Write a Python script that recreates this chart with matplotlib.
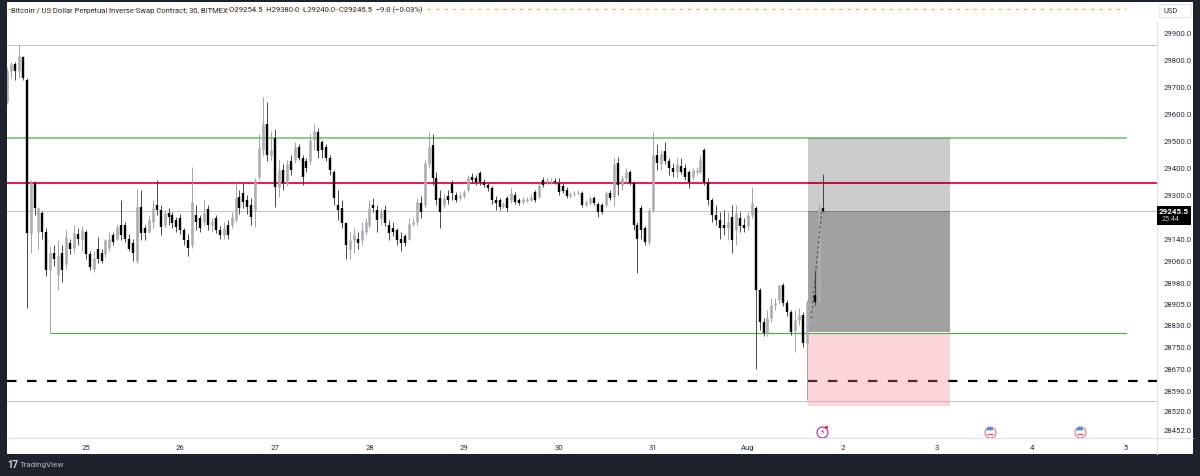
"""BTC perpetual 30m chart with long position box, TradingView look."""

import matplotlib

matplotlib.use("Agg")

import matplotlib.pyplot as plt
import numpy as np
from matplotlib.patches import FancyBboxPatch, Rectangle
from matplotlib.ticker import NullFormatter

plt.rcParams["font.family"] = ["Roboto", "DejaVu Sans"]

opens = [29644, 29759, 29788, 29759, 29814, 29729, 29163, 29348, 29167, 29237, 29167, 29030, 29093, 29011, 29093, 29052,
         29126, 29111, 29159, 29144, 29167, 29089, 29033, 29107, 29093, 29089, 29111, 29156, 29144, 29193, 29193, 29144,
         29126, 29063, 29259, 29181, 29167, 29204, 29267, 29248, 29193, 29237, 29230, 29211, 29218, 29174, 29137, 29119,
         29230, 29218, 29204, 29252, 29193, 29218, 29174, 29156, 29193, 29193, 29211, 29296, 29311, 29285, 29267, 29248,
         29370, 29470, 29563, 29451, 29514, 29333, 29396, 29348, 29426, 29433, 29481, 29440, 29426, 29426, 29507, 29533,
         29496, 29481, 29440, 29389, 29267, 29255, 29200, 29107, 29137, 29144, 29137, 29167, 29193, 29267, 29248, 29218,
         29248, 29193, 29181, 29174, 29144, 29152, 29144, 29196, 29204, 29274, 29267, 29415, 29485, 29366, 29292, 29267,
         29300, 29348, 29304, 29292, 29300, 29322, 29370, 29366, 29385, 29352, 29341, 29329, 29285, 29285, 29263, 29292,
         29285, 29304, 29285, 29278, 29281, 29285, 29315, 29296, 29359, 29352, 29352, 29355, 29348, 29337, 29322, 29300,
         29307, 29311, 29311, 29267, 29274, 29292, 29270, 29267, 29267, 29311, 29296, 29422, 29341, 29366, 29389, 29348,
         29193, 29255, 29181, 29130, 29248, 29451, 29415, 29463, 29426, 29403, 29389, 29411, 29403, 29389, 29370, 29389,
         29389, 29470, 29352, 29285, 29230, 29211, 29193, 29181, 29222, 29174, 29218, 29193, 29189, 29230, 29255, 28958,
         28842, 28803, 28856, 28903, 28921, 28976, 28910, 28878, 28814, 28849, 28867, 28767, 28842, 28939, 28914, 29254.5]
highs = [29773, 29796, 29796, 29859, 29818, 29736, 29359, 29355, 29259, 29244, 29181, 29115, 29119, 29137, 29119, 29174,
         29144, 29193, 29181, 29189, 29174, 29100, 29100, 29148, 29107, 29144, 29167, 29167, 29196, 29285, 29204, 29159,
         29144, 29326, 29322, 29193, 29230, 29285, 29359, 29267, 29248, 29255, 29241, 29222, 29233, 29181, 29159, 29407,
         29267, 29230, 29285, 29267, 29218, 29230, 29189, 29204, 29211, 29241, 29348, 29322, 29348, 29304, 29292, 29366,
         29526, 29666, 29644, 29537, 29544, 29433, 29415, 29433, 29451, 29496, 29492, 29451, 29440, 29526, 29563, 29551,
         29507, 29489, 29451, 29396, 29322, 29285, 29204, 29167, 29181, 29167, 29204, 29218, 29285, 29292, 29267, 29255,
         29267, 29211, 29204, 29181, 29167, 29159, 29218, 29218, 29292, 29300, 29433, 29533, 29526, 29389, 29322, 29307,
         29322, 29359, 29315, 29315, 29322, 29377, 29385, 29377, 29392, 29363, 29348, 29337, 29300, 29292, 29278, 29300,
         29329, 29315, 29292, 29296, 29296, 29307, 29322, 29348, 29370, 29370, 29366, 29366, 29366, 29348, 29333, 29315,
         29318, 29322, 29318, 29285, 29300, 29300, 29278, 29274, 29318, 29322, 29440, 29444, 29377, 29403, 29396, 29355,
         29204, 29267, 29189, 29255, 29533, 29489, 29470, 29496, 29440, 29422, 29440, 29440, 29415, 29396, 29403, 29407,
         29451, 29477, 29366, 29292, 29267, 29241, 29248, 29241, 29267, 29267, 29241, 29218, 29241, 29333, 29263, 28965,
         28856, 28885, 28929, 28929, 28976, 28983, 28921, 28885, 28885, 28892, 28878, 28921, 29030, 29030, 29267, 29380]
lows = [29640, 29733, 29729, 29736, 29729, 28892, 29093, 29230, 29107, 29144, 29007, 28800, 29044, 28958, 28986, 29033,
        29089, 29093, 29119, 29100, 29070, 29030, 29022, 29056, 29056, 29078, 29100, 29119, 29137, 29137, 29130, 29100,
        29063, 29056, 29137, 29137, 29163, 29181, 29230, 29156, 29181, 29193, 29181, 29167, 29159, 29119, 29082, 29111,
        29174, 29167, 29193, 29174, 29167, 29163, 29144, 29144, 29144, 29181, 29204, 29233, 29255, 29233, 29193, 29185,
        29359, 29448, 29426, 29433, 29259, 29296, 29322, 29337, 29377, 29422, 29433, 29341, 29389, 29415, 29470, 29440,
        29440, 29426, 29377, 29267, 29211, 29181, 29070, 29070, 29093, 29107, 29119, 29156, 29181, 29241, 29167, 29193,
        29189, 29137, 29152, 29119, 29100, 29115, 29137, 29189, 29193, 29218, 29255, 29403, 29341, 29267, 29181, 29255,
        29270, 29285, 29278, 29285, 29292, 29315, 29348, 29341, 29341, 29333, 29318, 29270, 29248, 29248, 29255, 29244,
        29274, 29270, 29267, 29270, 29278, 29281, 29278, 29292, 29333, 29344, 29344, 29344, 29304, 29311, 29292, 29292,
        29300, 29304, 29259, 29263, 29267, 29267, 29222, 29233, 29259, 29285, 29263, 29304, 29322, 29348, 29341, 29174,
        29018, 29144, 29119, 29122, 29241, 29396, 29396, 29415, 29377, 29370, 29366, 29381, 29359, 29329, 29359, 29377,
        29381, 29341, 29267, 29204, 29193, 29144, 29156, 29137, 29093, 29119, 29167, 29167, 29174, 29218, 28673, 28814,
        28792, 28792, 28842, 28885, 28910, 28899, 28864, 28796, 28732, 28831, 28750, 28560, 28831, 28903, 28903, 29240]
closes = [29759, 29788, 29759, 29818, 29736, 29163, 29348, 29255, 29255, 29167, 29030, 29093, 29070, 29082, 29030, 29148,
          29107, 29163, 29144, 29174, 29089, 29041, 29074, 29070, 29063, 29137, 29144, 29130, 29185, 29156, 29144, 29107,
          29093, 29259, 29163, 29163, 29211, 29255, 29248, 29185, 29237, 29222, 29200, 29185, 29174, 29137, 29111, 29278,
          29204, 29181, 29237, 29193, 29204, 29174, 29156, 29181, 29156, 29222, 29292, 29255, 29278, 29259, 29222, 29359,
          29477, 29563, 29451, 29470, 29333, 29396, 29348, 29415, 29396, 29481, 29440, 29370, 29403, 29507, 29537, 29463,
          29470, 29440, 29396, 29292, 29248, 29200, 29119, 29137, 29156, 29126, 29174, 29204, 29255, 29255, 29211, 29241,
          29200, 29163, 29167, 29137, 29126, 29126, 29196, 29204, 29278, 29241, 29422, 29481, 29366, 29285, 29241, 29292,
          29285, 29311, 29285, 29304, 29315, 29366, 29359, 29352, 29352, 29341, 29329, 29285, 29274, 29259, 29270, 29255,
          29311, 29278, 29274, 29289, 29289, 29296, 29285, 29341, 29341, 29359, 29355, 29352, 29315, 29318, 29300, 29307,
          29311, 29315, 29267, 29278, 29292, 29274, 29241, 29241, 29311, 29292, 29415, 29341, 29366, 29389, 29348, 29193,
          29144, 29174, 29130, 29248, 29451, 29422, 29455, 29426, 29403, 29389, 29415, 29389, 29370, 29352, 29396, 29396,
          29433, 29352, 29285, 29230, 29211, 29181, 29181, 29204, 29137, 29237, 29189, 29181, 29230, 29274, 28958, 28842,
          28803, 28856, 28903, 28910, 28976, 28910, 28878, 28807, 28849, 28867, 28767, 28914, 28914, 28914, 29252, 29245.5]

first_hour = -20  # first candle, in hours from 25 Jul 00:00

date_ticks = list(range(12))
date_labels = ["25", "26", "27", "28", "29", "30", "31", "Aug", "2", "3", "4", "5"]
price_ticks = [29900, 29800, 29700, 29600, 29500, 29400, 29300, 29140, 29060, 28980,
               28905, 28830, 28750, 28670, 28590, 28520, 28452]

top_green = 29512
low_green = 28800
red_level = 29348
dash_level = 28630
orange_level = 29992
dotted_levels = [29858, 29245.5, 28557]
entry_price = 29245.5
box_top = 29512
box_mid = 28806
box_bottom = 28540
box_days = [7.635, 9.135]
path_days = [7.67, 7.78]
path_prices = [28855, 29240]
low_green_start = -0.365
line_end = 11.0
flag_days = [9.56, 10.51]
bolt_day = 7.78
event_price = 28448

W, H = 1200, 476
fig = plt.figure(figsize=(W / 100, H / 100), dpi=100, facecolor="#1e222d")


def fx(px):
    return px / W


def fy(px):
    return 1 - px / H


fig.add_artist(Rectangle((fx(7), fy(454)), fx(1186), 452 / H, transform=fig.transFigure,
                         facecolor="white", edgecolor="none", zorder=-5))

ax = fig.add_axes([fx(7), fy(438), fx(1150), 436 / H], facecolor="none")
ax.set_yscale("log")
ax.set_xlim(-0.833, 11.327)
ax.set_ylim(28426, 30018.7)
for s in ax.spines.values():
    s.set_visible(False)

days = (np.arange(len(opens)) + first_hour) / 24
o, h, l, c = map(np.array, (opens, highs, lows, closes))
up = c >= o
px_lw = 72 / 100

# candles, grey ones first so the black ones stay on top
ax.vlines(days[up], l[up], h[up], color="#9b9ba1", lw=0.9 * px_lw, zorder=5)
ax.vlines(days[up], o[up], c[up], color="#acacb2", lw=2.6 * px_lw, zorder=5)
ax.vlines(days[~up], l[~up], h[~up], color="#3a3a3a", lw=0.9 * px_lw, zorder=6)
ax.vlines(days[~up], o[~up], c[~up], color="black", lw=2.4 * px_lw, zorder=6)

# levels
ax.plot([days[0] - 0.03, line_end], [top_green] * 2, color="#7cc47f", lw=1.7 * px_lw, zorder=2)
ax.plot([low_green_start, line_end], [low_green] * 2, color="#4caf50", lw=1.2 * px_lw, zorder=2)
ax.axhline(red_level, color="#ec1c5b", lw=2.0 * px_lw, zorder=2)
ax.axhline(dash_level, color="black", lw=2.2 * px_lw, dashes=(4.3, 4.8), zorder=2)
ax.plot([-0.833, line_end], [orange_level] * 2, color="#ffb74d", lw=1.2 * px_lw, dashes=(3, 4), zorder=1)
for lv in dotted_levels:
    ax.axhline(lv, color="#8a8d96", lw=1.0 * px_lw, dashes=(1, 1), zorder=1)

# long position box
ax.fill_between(box_days, entry_price, box_top, color="black", alpha=0.2, lw=0, zorder=3)
ax.fill_between(box_days, box_mid, entry_price, color="black", alpha=0.37, lw=0, zorder=3)
ax.fill_between(box_days, box_bottom, box_mid - 8, color="#f4808c", alpha=0.33, lw=0, zorder=3)
ax.plot(path_days, path_prices, color="#444444", lw=1.0 * px_lw, dashes=(2.5, 2.5), zorder=7)

# event markers
ax.scatter(flag_days, [event_price] * 2, s=62, facecolor="white", edgecolor="#f0737f", lw=0.8, zorder=8)
ax.scatter(flag_days, [event_price + 5] * 2, s=26, color="#4a90e2", marker=matplotlib.markers.MarkerStyle("o", fillstyle="top"),
           edgecolor="none", zorder=9)
ax.scatter(flag_days, [event_price - 8] * 2, s=16, color="#ef5350", marker="_", lw=1.0, zorder=9)
ax.scatter([bolt_day], [event_price], s=62, facecolor="white", edgecolor="#9c27b0", lw=0.8, zorder=8)
ax.text(bolt_day, event_price, "\u26a1", color="#9c27b0", fontsize=5.5, ha="center", va="center",
        family=["DejaVu Sans"], zorder=9)
ax.scatter([bolt_day + 0.05], [event_price + 18], s=6, color="#f23645", lw=0, zorder=10)

# axes
ax.set_xticks(date_ticks, date_labels)
ax.yaxis.tick_right()
ax.set_yticks(price_ticks, [f"{p:.1f}" for p in price_ticks])
ax.yaxis.set_minor_formatter(NullFormatter())
ax.tick_params(axis="y", which="both", length=0, pad=5, labelsize=5.6, labelcolor="#2a2e39")
ax.tick_params(axis="y", which="minor", right=False)
ax.tick_params(axis="x", length=0, pad=5, labelsize=5.6, labelcolor="#2a2e39")

# panel separators
fig.add_artist(plt.Line2D([fx(7), fx(1193)], [fy(438)] * 2, color="#e0e3eb", lw=0.8))
fig.add_artist(plt.Line2D([fx(1157)] * 2, [fy(22), fy(454)], color="#e0e3eb", lw=0.8))

# header
fig.text(fx(11), fy(10.5), "Bitcoin / US Dollar Perpetual Inverse Swap Contract, 30, BITMEX", fontsize=5.5,
         color="#2a2e39", va="center", zorder=10)
fig.text(fx(229), fy(10.5), "O29254.5  H29380.0  L29240.0  C29245.5  \u22129.0 (\u22120.03%)", fontsize=5.5,
         color="#2a2e39", va="center", zorder=10)

# USD box and last price tag
fig.add_artist(FancyBboxPatch((fx(1161), fy(17)), fx(29), 12 / H, transform=fig.transFigure,
                              boxstyle="round,pad=0.001", facecolor="white", edgecolor="#e0e3eb", lw=0.7))
fig.text(fx(1171), fy(11.5), "USD", fontsize=5.4, color="#2a2e39", ha="center", va="center")
fig.add_artist(Rectangle((fx(1157), fy(224.5)), fx(34), 19 / H, transform=fig.transFigure,
                         facecolor="black", edgecolor="none", zorder=4))
fig.text(fx(1174), fy(211), f"{entry_price:.1f}", fontsize=5.8, fontweight="bold", color="white",
         ha="center", va="center", zorder=5)
fig.text(fx(1171), fy(219.5), "25:44", fontsize=5.2, color="#c8c8c8", ha="center", va="center", zorder=5)

# footer logo
fig.text(fx(7), fy(465), "17", fontsize=7, fontweight="bold", color="#d1d4dc", va="center")
fig.text(fx(20), fy(465), "TradingView", fontsize=5.8, color="#b2b5be", va="center")

fig.savefig("out.png", dpi=100, facecolor=fig.get_facecolor())
plt.close(fig)
